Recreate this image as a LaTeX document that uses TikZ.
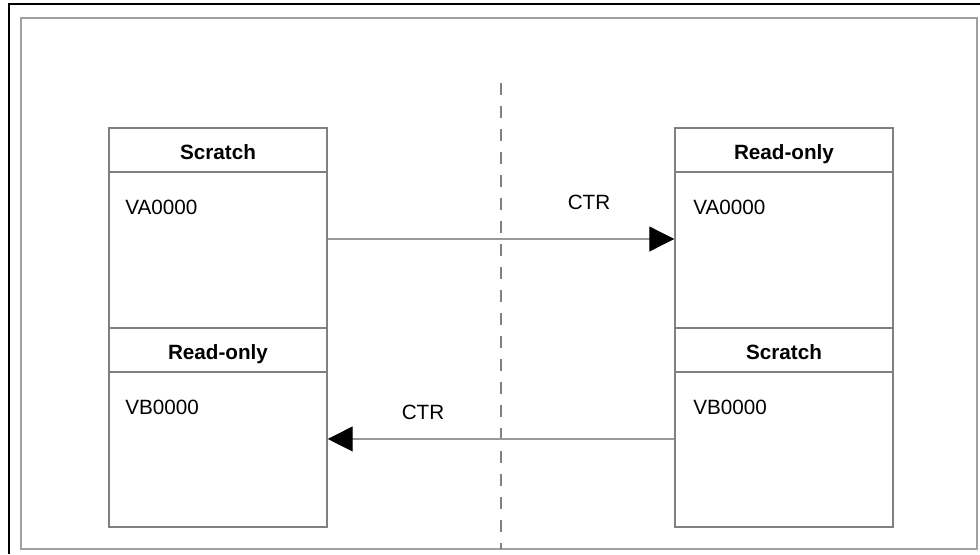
\documentclass[tikz,border=0pt]{standalone}
\usepackage{fontspec}
\setmainfont{Liberation Sans}
\usetikzlibrary{arrows.meta}
\definecolor{boxgray}{HTML}{808080}
\definecolor{framegray}{HTML}{A0A0A0}
\definecolor{linegray}{HTML}{999999}
\begin{document}
\begin{tikzpicture}[x=0.75pt,y=-0.75pt,
  lbl/.style={font=\fontsize{15.5pt}{18pt}\selectfont, inner sep=0pt},
  hdr/.style={draw=boxgray, line width=1.1pt, minimum width=163.5pt, minimum height=33pt, inner sep=0pt,
              text height=17pt, text depth=3pt,
              font=\fontsize{15.5pt}{18pt}\selectfont\bfseries},
  bodyA/.style={draw=boxgray, line width=1.1pt, minimum width=163.5pt, minimum height=117pt, inner sep=0pt},
  bodyB/.style={draw=boxgray, line width=1.1pt, minimum width=163.5pt, minimum height=116.25pt, inner sep=0pt},
  flow/.style={draw=linegray, line width=0.9pt, -{Triangle[length=18.75pt,width=18.75pt,color=black]}, shorten >=0pt}
]
\useasboundingbox (0,0) rectangle (980,554);
\fill[white] (0,0) rectangle (980,554);
% outer frames
\draw[black, line width=1.6pt] (9,554) -- (9,4) -- (980,4);
\draw[framegray, line width=1.1pt] (21,18) rectangle (977,549);
% divider
\coordinate (dtop) at (501,83);
\coordinate (dbot) at (501,549);
\draw[boxgray, line width=1.2pt, dash pattern=on 9pt off 8.25pt] (dtop) -- (dbot);
% left column
\node[hdr]   (lh1) at (218,150)   {Scratch};
\node[bodyA] (lb1) at (218,250)   {};
\node[hdr]   (lh2) at (218,350)   {Read-only};
\node[bodyB] (lb2) at (218,449.5) {};
% right column
\node[hdr]   (rh1) at (784,150)   {Read-only};
\node[bodyA] (rb1) at (784,250)   {};
\node[hdr]   (rh2) at (784,350)   {Scratch};
\node[bodyB] (rb2) at (784,449.5) {};
% body texts
\node[lbl, anchor=west] (lva) at (125,207) {VA0000};
\node[lbl, anchor=west] (lvb) at (125,407) {VB0000};
\node[lbl, anchor=west] (rva) at (693,207) {VA0000};
\node[lbl, anchor=west] (rvb) at (693,407) {VB0000};
% connectors
\draw[flow] ([yshift=8.25pt]lb1.east) -- ([yshift=8.25pt]rb1.west);
\draw[flow] ([yshift=7.9pt]rb2.west) -- ([yshift=7.9pt]lb2.east);
\node[lbl] (ctr1) at (589,202) {CTR};
\node[lbl] (ctr2) at (423,412) {CTR};
\end{tikzpicture}
\end{document}
